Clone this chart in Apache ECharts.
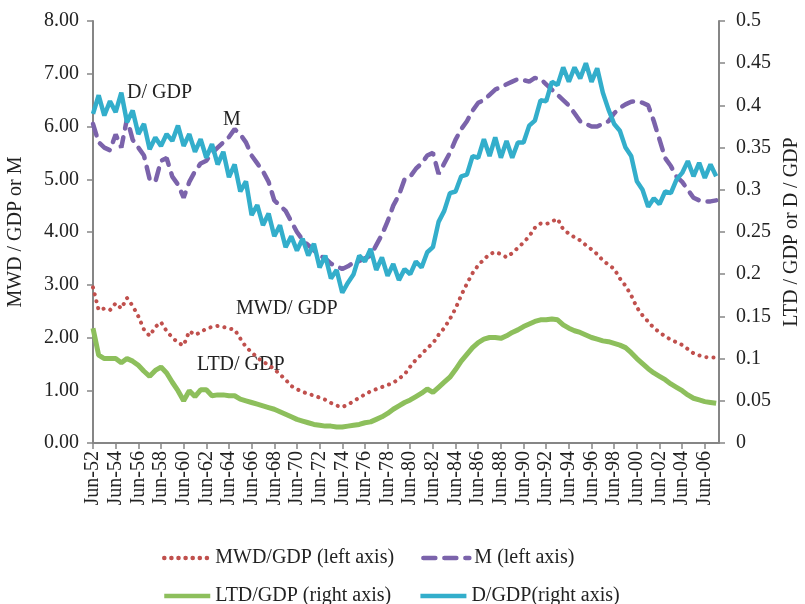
<!DOCTYPE html>
<html>
<head>
<meta charset="utf-8">
<script src="https://cdn.jsdelivr.net/npm/echarts@6/dist/echarts.min.js"></script>
<style>
  html, body { margin: 0; padding: 0; background: #fff; }
  #main { width: 805px; height: 604px; }
</style>
</head>
<body>
<div id="main"></div>
<script>
// quarterly categories Jun-52 .. Sep-07, labels shown every 2 years
const months = ['Mar', 'Jun', 'Sep', 'Dec'];
const categories = [];
for (let y = 1952, q = 1; categories.length < 222; q++) {
  if (q === 4) { q = 0; y++; }
  categories.push(months[q] + '-' + String(y).slice(2));
}

// half-yearly readings (Jun, Dec) from Jun-52 to Jun-07
const mwdGdp = [
  2.95, 2.52, 2.55, 2.52, 2.65, 2.55, 2.75, 2.6, 2.4, 2.15,
  2.03, 2.2, 2.29, 2.12, 2.0, 1.9, 1.85, 2.12, 2.05, 2.1,
  2.17, 2.2, 2.22, 2.2, 2.17, 2.15, 1.98, 1.82, 1.72, 1.62,
  1.54, 1.48, 1.4, 1.3, 1.2, 1.08, 1.02, 0.97, 0.93, 0.9,
  0.86, 0.82, 0.76, 0.71, 0.68, 0.73, 0.79, 0.86, 0.92, 0.98,
  1.02, 1.06, 1.1, 1.14, 1.22, 1.3, 1.45, 1.58, 1.68, 1.8,
  1.89, 2.05, 2.18, 2.35, 2.55, 2.8, 3.02, 3.22, 3.37, 3.48,
  3.58, 3.62, 3.58, 3.52, 3.6, 3.7, 3.8, 3.92, 4.08, 4.16,
  4.15, 4.2, 4.25, 4.05, 3.97, 3.9, 3.84, 3.75, 3.67, 3.58,
  3.46, 3.38, 3.3, 3.12, 2.98, 2.8, 2.57, 2.42, 2.3, 2.18,
  2.1, 2.02, 1.96, 1.91, 1.86, 1.78, 1.7, 1.66, 1.63, 1.62,
  1.62
];
const mRatio = [
  6.05, 5.7, 5.6, 5.55, 5.85, 5.6, 6.15, 5.75, 5.6, 5.45,
  5.0, 4.95, 5.35, 5.4, 5.05, 4.9, 4.65, 4.95, 5.15, 5.3,
  5.35, 5.5, 5.6, 5.7, 5.8, 5.95, 5.85, 5.7, 5.45, 5.3,
  5.15, 4.95, 4.6, 4.5, 4.4, 4.2, 4.0, 3.85, 3.75, 3.65,
  3.55, 3.5, 3.4, 3.35, 3.3, 3.35, 3.42, 3.45, 3.5, 3.55,
  3.75, 3.95, 4.2, 4.5, 4.7, 5.0, 5.05, 5.2, 5.3, 5.45,
  5.5, 5.1, 5.3, 5.5, 5.75, 5.95, 6.1, 6.3, 6.45, 6.5,
  6.6, 6.7, 6.75, 6.8, 6.85, 6.9, 6.88, 6.85, 6.92, 6.9,
  6.8, 6.7, 6.6, 6.5, 6.4, 6.25, 6.1, 6.05, 6.0, 6.0,
  6.05, 6.1, 6.25, 6.35, 6.42, 6.47, 6.48, 6.45, 6.4, 6.1,
  5.75, 5.4, 5.25, 5.05, 4.95, 4.8, 4.65, 4.6, 4.58, 4.58,
  4.6
];
const ltdGdp = [
  0.136, 0.104, 0.1, 0.1, 0.1, 0.095, 0.1, 0.097, 0.092, 0.085,
  0.079, 0.086, 0.09, 0.083, 0.072, 0.062, 0.05, 0.062, 0.055, 0.063,
  0.063, 0.056, 0.057, 0.057, 0.056, 0.056, 0.052, 0.05, 0.048, 0.046,
  0.044, 0.042, 0.04, 0.037, 0.034, 0.031, 0.028, 0.026, 0.024, 0.022,
  0.021, 0.02, 0.02, 0.019, 0.019, 0.02, 0.021, 0.022, 0.024, 0.025,
  0.028, 0.031, 0.035, 0.04, 0.044, 0.048, 0.051, 0.055, 0.059, 0.064,
  0.06, 0.066, 0.072, 0.078, 0.087, 0.097, 0.105, 0.113, 0.119, 0.123,
  0.125, 0.125, 0.124, 0.127, 0.131, 0.134, 0.138, 0.141, 0.144, 0.146,
  0.146, 0.147, 0.146, 0.14, 0.136, 0.133, 0.131, 0.128, 0.125, 0.123,
  0.121, 0.12, 0.118, 0.116, 0.113, 0.107, 0.1, 0.094, 0.088, 0.083,
  0.079, 0.075, 0.07, 0.066, 0.062, 0.057, 0.053, 0.051, 0.049, 0.048,
  0.047
];
const dGdp = [
  0.39, 0.412, 0.388, 0.405, 0.392, 0.415, 0.38, 0.394, 0.366, 0.378,
  0.348, 0.362, 0.352, 0.366, 0.358, 0.376, 0.352, 0.366, 0.345, 0.36,
  0.338, 0.354, 0.33, 0.345, 0.315, 0.33, 0.298, 0.31, 0.27, 0.282,
  0.258, 0.272, 0.245, 0.258, 0.232, 0.245, 0.228, 0.242, 0.222, 0.236,
  0.208, 0.222, 0.195, 0.205, 0.178, 0.19, 0.2, 0.222, 0.215, 0.23,
  0.205, 0.22, 0.198, 0.212, 0.193, 0.206, 0.2, 0.215, 0.208, 0.226,
  0.232, 0.262, 0.275, 0.296, 0.298, 0.316, 0.318, 0.34, 0.338, 0.36,
  0.34, 0.362, 0.338, 0.358, 0.338, 0.356, 0.356, 0.376, 0.382, 0.406,
  0.405, 0.428, 0.424, 0.445, 0.428, 0.445, 0.432, 0.45, 0.428, 0.444,
  0.415, 0.395, 0.378, 0.37, 0.35, 0.34, 0.31, 0.3, 0.28, 0.29,
  0.283, 0.298, 0.296, 0.312, 0.32, 0.334, 0.316, 0.332, 0.314, 0.33,
  0.316
];

const leftTicks = [0, 8, 1];
const rightTicks = [0, 0.5, 0.05];

const FONT = 'Liberation Serif';
const txt = '#222';
const axisGrey = '#868686';
const half = arr => arr.map((v, i) => [i * 2, v]);

const chart = echarts.init(document.getElementById('main'));

const legendBase = {
  left: 157, itemWidth: 46, itemHeight: 14, itemGap: 27, itemTextGap: 9,
  itemStyle: { opacity: 0 },
  lineStyle: { width: 4.5 },
  textStyle: { fontFamily: FONT, fontSize: 20, color: txt }
};

chart.setOption({
  backgroundColor: '#fff',
  animation: false,
  textStyle: { fontFamily: FONT, color: txt },
  grid: { left: 93, right: 86, top: 21, bottom: 161, outerBoundsMode: 'none', containLabel: false },
  legend: [
    Object.assign({ top: 543, data: ['MWD/GDP (left axis)', 'M (left axis)'] }, legendBase),
    Object.assign({ top: 581, data: ['LTD/GDP (right axis)', 'D/GDP(right axis)'] }, legendBase)
  ],
  xAxis: {
    type: 'category',
    data: categories,
    boundaryGap: false,
    axisLine: { lineStyle: { color: axisGrey, width: 2 } },
    axisTick: { interval: 7, length: 6, lineStyle: { color: axisGrey, width: 1.5 } },
    axisLabel: { interval: 7, rotate: 90, fontSize: 20, color: txt, fontFamily: FONT, margin: 8 },
    splitLine: { show: false }
  },
  yAxis: [
    {
      type: 'value',
      min: leftTicks[0], max: leftTicks[1], interval: leftTicks[2],
      name: 'MWD / GDP or M',
      nameLocation: 'middle', nameGap: 67, nameRotate: 90,
      nameTextStyle: { fontSize: 20, color: txt, fontFamily: FONT },
      axisLine: { show: true, lineStyle: { color: axisGrey, width: 2 } },
      axisTick: { show: true, length: 6, lineStyle: { color: axisGrey, width: 1.5 } },
      axisLabel: { fontSize: 20, color: txt, fontFamily: FONT, margin: 14,
        formatter: v => v.toFixed(2) },
      splitLine: { show: false }
    },
    {
      type: 'value',
      position: 'right',
      min: rightTicks[0], max: rightTicks[1], interval: rightTicks[2],
      name: 'LTD / GDP or D / GDP',
      nameLocation: 'middle', nameGap: 62, nameRotate: 90,
      nameTextStyle: { fontSize: 20, color: txt, fontFamily: FONT },
      axisLine: { show: true, lineStyle: { color: axisGrey, width: 2 } },
      axisTick: { show: true, length: 6, lineStyle: { color: axisGrey, width: 1.5 } },
      axisLabel: { fontSize: 20, color: txt, fontFamily: FONT, margin: 17,
        formatter: v => String(+v.toFixed(2)) },
      splitLine: { show: false }
    }
  ],
  series: [
    {
      name: 'MWD/GDP (left axis)', type: 'line', yAxisIndex: 0,
      data: half(mwdGdp), symbol: 'none',
      lineStyle: { color: '#C0504D', width: 4, type: [0.1, 7], cap: 'round' },
      itemStyle: { color: '#C0504D' }
    },
    {
      name: 'M (left axis)', type: 'line', yAxisIndex: 0,
      data: half(mRatio), symbol: 'none',
      lineStyle: { color: '#7B63AB', width: 4.5, type: [12, 9], cap: 'round' },
      itemStyle: { color: '#7B63AB' }
    },
    {
      name: 'LTD/GDP (right axis)', type: 'line', yAxisIndex: 1,
      data: half(ltdGdp), symbol: 'none',
      lineStyle: { color: '#8DBF5C', width: 5 },
      itemStyle: { color: '#8DBF5C' }
    },
    {
      name: 'D/GDP(right axis)', type: 'line', yAxisIndex: 1,
      data: half(dGdp), symbol: 'none',
      lineStyle: { color: '#33AECB', width: 4.5 },
      itemStyle: { color: '#33AECB' }
    }
  ],
  graphic: [
    { type: 'text', left: 127, top: 83, style: { text: 'D/ GDP', font: '20px ' + FONT, fill: txt } },
    { type: 'text', left: 223, top: 110, style: { text: 'M', font: '20px ' + FONT, fill: txt } },
    { type: 'text', left: 236, top: 299, style: { text: 'MWD/ GDP', font: '20px ' + FONT, fill: txt } },
    { type: 'text', left: 197, top: 355, style: { text: 'LTD/ GDP', font: '20px ' + FONT, fill: txt } }
  ]
});
</script>
</body>
</html>
